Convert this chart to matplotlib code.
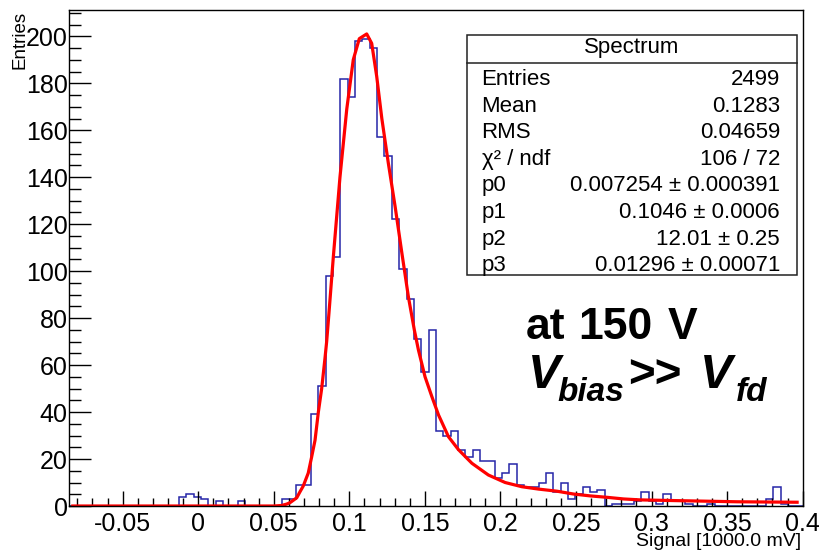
import numpy as np
import matplotlib
matplotlib.use("Agg")
import matplotlib.pyplot as plt
from matplotlib.patches import Rectangle
from matplotlib.lines import Line2D
from matplotlib.ticker import MultipleLocator, FixedLocator

plt.rcParams['font.family'] = ['Liberation Sans', 'DejaVu Sans']

# ---------------- data ----------------
x_min, x_max, n_bins = -0.0855, 0.4, 100
counts = [0] * 15 + [
    4, 5, 4, 3, 0, 2, 0, 0, 2, 0,          # 15-24
    0, 0, 0, 0, 3, 3, 9, 9, 39, 51,        # 25-34
    98, 106, 182, 174, 198, 199, 195, 157, 149, 122,  # 35-44
    101, 88, 71, 57, 75, 32, 30, 32, 24, 21,          # 45-54
    24, 19, 19, 12, 14, 18, 9, 8, 8, 10,              # 55-64
    14, 6, 10, 3, 5, 8, 6, 7, 0, 1,                   # 65-74
    1, 1, 2, 6, 2, 1, 5, 2, 2, 1,                     # 75-84
    0, 0, 1, 0, 0, 0, 0, 0, 0, 0,                     # 85-94
    3, 8, 1, 0, 0]                                    # 95-99

fit_x = [-0.083, 0.0, 0.05, 0.055, 0.0585, 0.0607, 0.0652, 0.0673, 0.0695, 0.0728,
         0.0751, 0.0773, 0.0795, 0.0817, 0.0839, 0.085, 0.0865, 0.0894, 0.0938,
         0.0983, 0.1026, 0.1066, 0.1115, 0.1148, 0.1181, 0.1215, 0.1258, 0.1303,
         0.1347, 0.1391, 0.143, 0.1457, 0.1501, 0.1546, 0.159, 0.1656, 0.1722,
         0.1811, 0.192, 0.2031, 0.2142, 0.2252, 0.2374, 0.2483, 0.2594, 0.2705,
         0.2815, 0.2925, 0.3157, 0.3566, 0.3963]
fit_y = [0, 0, 0, 0.2, 0.8, 1.4, 3.5, 6, 8.5, 14,
         21, 28, 40, 50, 63, 70, 82, 106, 140,
         169, 190, 199, 201, 197, 183, 165, 146, 127.5,
         108, 89, 75, 66.5, 55, 46.6, 38.8, 29.5, 24,
         18.2, 13.2, 10, 8.2, 7.2, 6.3, 5.1, 4.3, 3.7,
         3.0, 2.6, 2.3, 1.8, 1.6]

stat_title = "Spectrum"
stat_labels = ["Entries", "Mean", "RMS", "χ² / ndf", "p0", "p1", "p2", "p3"]
stat_values = ["2499", "0.1283", "0.04659", "106 / 72",
               "0.007254 ± 0.000391", "0.1046 ± 0.0006",
               "12.01 ± 0.25", "0.01296 ± 0.00071"]

x_ticks = [-0.05, 0, 0.05, 0.1, 0.15, 0.2, 0.25, 0.3, 0.35, 0.4]
x_tick_labels = ["-0.05", "0", "0.05", "0.1", "0.15", "0.2", "0.25", "0.3", "0.35", "0.4"]
x_label = "Signal [1000.0 mV]"
y_label = "Entries"

# ---------------- figure ----------------
W, H = 819, 551
fig = plt.figure(figsize=(W / 100, H / 100), dpi=100)
fx = lambda px: px / W
fy = lambda py: 1 - py / H

ax = fig.add_axes([fx(69), fy(506), fx(802.7) - fx(69), fy(10) - fy(506)])
edges = np.linspace(x_min, x_max, n_bins + 1)
ax.stairs(counts, edges, baseline=0, color='#2626a8', linewidth=1.1)
ax.plot(fit_x, fit_y, color='#ff0000', linewidth=2.3, solid_joinstyle='round')

ax.set_xlim(x_min, x_max)
ax.set_ylim(0, 211.2)

for s in ax.spines.values():
    s.set_linewidth(1.0)
    s.set_color('black')

ax.xaxis.set_major_locator(FixedLocator(x_ticks))
ax.xaxis.set_minor_locator(MultipleLocator(0.01))
ax.yaxis.set_major_locator(MultipleLocator(20))
ax.yaxis.set_minor_locator(MultipleLocator(5))
ax.set_xticklabels(x_tick_labels)
ax.tick_params(axis='x', which='major', direction='in', length=11, width=1.0,
               labelsize=18, pad=4)
ax.tick_params(axis='x', which='minor', direction='in', length=5.8, width=1.0)
ax.tick_params(axis='y', which='major', direction='in', length=16, width=1.0,
               labelsize=18, pad=1)
ax.tick_params(axis='y', which='minor', direction='in', length=8.6, width=1.0)

fig.text(fx(801), fy(546.5), x_label, ha='right', va='baseline', fontsize=14)
fig.text(fx(19.5), fy(11), y_label, ha='center', va='top', rotation=90, fontsize=13.5)

# ---------------- stats box ----------------
fig.patches.append(Rectangle((fx(466.7), fy(275)), fx(796.7) - fx(466.7), fy(35) - fy(275),
                             transform=fig.transFigure, facecolor='white',
                             edgecolor='#222222', linewidth=1.1, zorder=5))
fig.lines.append(Line2D([fx(466.7), fx(796.7)], [fy(62.7), fy(62.7)],
                        transform=fig.transFigure, color='#222222', linewidth=1.1, zorder=6))
fig.text(fx(631.7), fy(53.5), stat_title, ha='center', va='baseline', fontsize=16, zorder=7)
for i, (lab, val) in enumerate(zip(stat_labels, stat_values)):
    yb = 85 + i * 26.6
    fig.text(fx(481.5), fy(yb), lab, ha='left', va='baseline', fontsize=16, zorder=7)
    fig.text(fx(780), fy(yb), val, ha='right', va='baseline', fontsize=16, zorder=7)

# ---------------- annotation ----------------
big = dict(ha='left', va='baseline', fontsize=32, fontweight='bold')
fig.text(fx(526), fy(339), "at", **big)
fig.text(fx(578), fy(339), "150", **big)
fig.text(fx(668), fy(339), "V", **big)
fig.text(fx(528), fy(388), "V", ha='left', va='baseline', fontsize=35,
         fontweight='bold', fontstyle='italic')
fig.text(fx(557), fy(401), "bias", ha='left', va='baseline', fontsize=24,
         fontweight='bold', fontstyle='italic')
fig.text(fx(628), fy(388), ">>", ha='left', va='baseline', fontsize=33,
         fontweight='bold')
fig.text(fx(700), fy(388), "V", ha='left', va='baseline', fontsize=35,
         fontweight='bold', fontstyle='italic')
fig.text(fx(736), fy(401), "fd", ha='left', va='baseline', fontsize=24,
         fontweight='bold', fontstyle='italic')

fig.savefig("out.png", dpi=100)
